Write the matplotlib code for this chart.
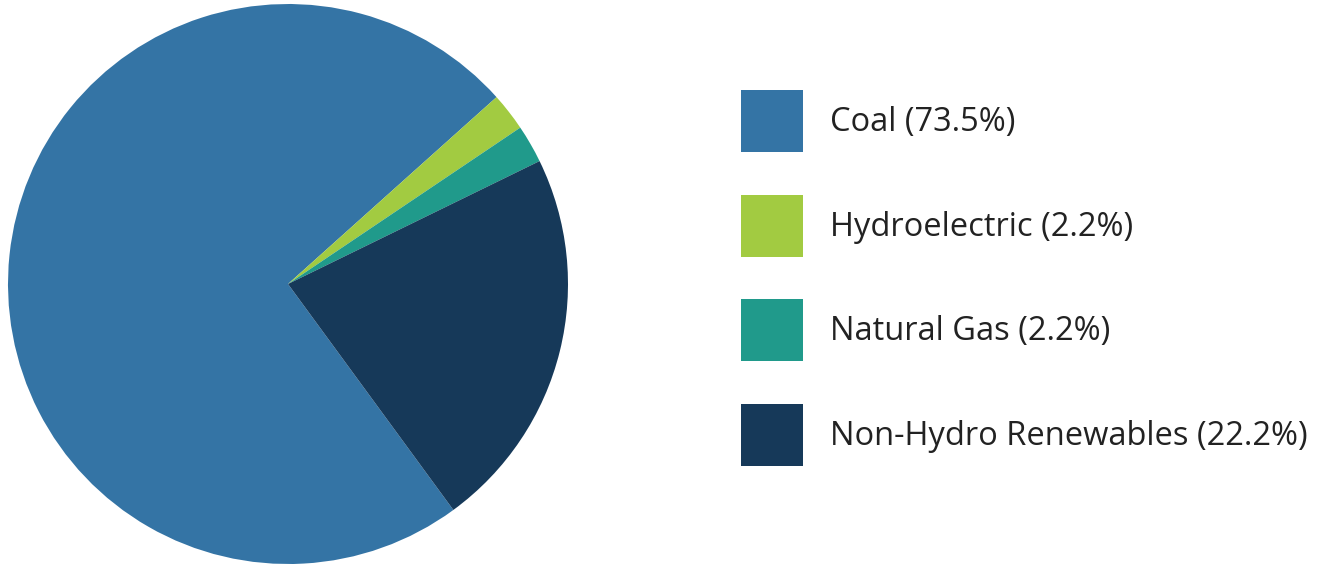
import matplotlib.pyplot as plt

# === DADOS ===
labels = ['Coal', 'Hydroelectric', 'Natural Gas', 'Non-Hydro Renewables']
shares = [73.5, 2.2, 2.2, 22.2]
colors = ['#3474a5', '#a2cb41', '#209a8b', '#163959']

plt.rcParams['font.family'] = ['Open Sans', 'DejaVu Sans']

W, H = 1334, 567
fig = plt.figure(figsize=(W / 100, H / 100), dpi=100)

# pie area: x 8..568, y 4..564 (pixels from top)
ax = fig.add_axes([8 / W, (H - 564) / H, 560 / W, 560 / H])
wedges, _ = ax.pie(shares, colors=colors, startangle=306.2, counterclock=False,
                   radius=1, wedgeprops=dict(linewidth=0))
ax.set_xlim(-1, 1)
ax.set_ylim(-1, 1)
ax.set_aspect('equal')
ax.axis('off')

legend_labels = [f'{l} ({v}%)' for l, v in zip(labels, shares)]
fs = 23.5  # pt
fs_px = fs * 100 / 72
box = 62  # px, legend square side
fig.legend(wedges, legend_labels, loc='upper left',
           bbox_to_anchor=(741 / W, (H - 90) / H), frameon=False,
           prop={'size': fs}, borderpad=0, borderaxespad=0,
           handlelength=box / fs_px,
           handleheight=(box / fs_px - 0.245) / 0.65,
           handletextpad=27 / fs_px, labelspacing=(104.7 - box) / fs_px,
           labelcolor='#222222')

fig.savefig('out.png', dpi=100)
